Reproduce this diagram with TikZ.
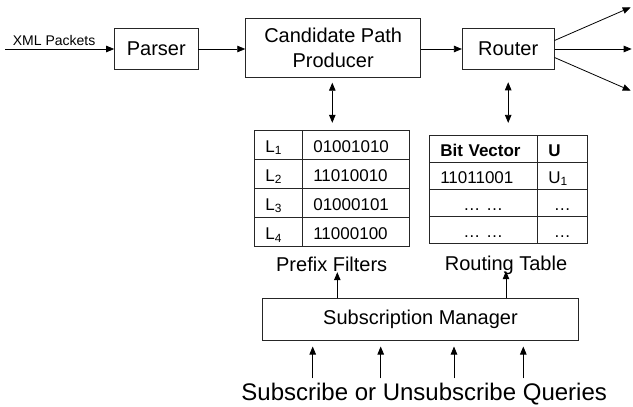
\documentclass[tikz,border=0pt]{standalone}
\usepackage{fontspec}
\setmainfont{Liberation Sans}
\usetikzlibrary{arrows.meta,calc}
\begin{document}
\begin{tikzpicture}[x=1pt,y=-1pt,
  box/.style={draw=black!85, line width=0.9pt, rectangle, inner sep=0pt, font=\fontsize{20}{25}\selectfont, align=center},
  arr/.style={-{Triangle[length=8pt,width=6.5pt]}, line width=0.8pt},
  darr/.style={{Triangle[length=8pt,width=6.5pt]}-{Triangle[length=8pt,width=6.5pt]}, line width=0.8pt},
  cell/.style={draw=black!85, line width=0.8pt, rectangle, inner xsep=11pt, inner ysep=0pt, text height=15pt, text depth=0pt, align=left, font=\fontsize{17}{20}\selectfont},
  lbl/.style={font=\fontsize{20}{24}\selectfont, inner sep=1pt, text depth=0pt},
]
\useasboundingbox (0,0) rectangle (633,407);

% main boxes
\node[box, minimum width=83.3pt, minimum height=41.6pt] (parser) at (156.3,49) {Parser};
\node[box, minimum width=175pt, minimum height=58.3pt] (cpp) at (333.2,47.8) {Candidate Path\\Producer};
\node[box, minimum width=91.7pt, minimum height=41.6pt] (router) at (508.2,49) {Router};
\node[box, minimum width=315.6pt, minimum height=41.7pt] (sm) at (420.5,319.2) {Subscription Manager};

% prefix filters table
\foreach \i/\b in {1/01001010,2/11010010,3/01000101,4/11000100} {
  \node[cell, text width=26pt, minimum height=29.2pt] (pa\i) at (278.3,{144.5+29.2*(\i-1)}) {L\textsubscript{\i}};
  \node[cell, text width=85pt, minimum height=29.2pt] (pb\i) at (355.8,{144.5+29.2*(\i-1)}) {\b};
}

% routing table
\node[cell, text width=86pt, minimum height=27.1pt] (ra1) at (483.3,148.55) {\textbf{Bit Vector}};
\node[cell, text width=28pt, minimum height=27.1pt] (ru1) at (562.3,148.55) {\textbf{U}};
\node[cell, text width=86pt, minimum height=27.1pt] (ra2) at (483.3,175.65) {11011001};
\node[cell, text width=28pt, minimum height=27.1pt] (ru2) at (562.3,175.65) {U\textsubscript{1}};
\node[cell, text width=86pt, minimum height=27.1pt, align=center] (ra3) at (483.3,202.75) {… …};
\node[cell, text width=28pt, minimum height=27.1pt, align=center] (ru3) at (562.3,202.75) {…};
\node[cell, text width=86pt, minimum height=27.1pt, align=center] (ra4) at (483.3,229.85) {… …};
\node[cell, text width=28pt, minimum height=27.1pt, align=center] (ru4) at (562.3,229.85) {…};

% labels
\node[lbl, anchor=base] (pflabel) at (331.7,271) {Prefix Filters};
\node[lbl, anchor=base] (rtlabel) at (506,270) {Routing Table};
\node[font=\fontsize{24}{28}\selectfont, anchor=base, inner sep=1pt] (q) at (424.2,400) {Subscribe or Unsubscribe Queries};

% free ends
\coordinate (xin) at (5,49);
\coordinate (o1) at (630.7,7.3);
\coordinate (o2) at (631.7,49);
\coordinate (o3) at (630.7,90.7);

% connectors
\draw[arr] (xin) -- node[pos=0.45, anchor=base, yshift=4pt, font=\fontsize{14}{16}\selectfont, inner sep=0pt] {XML Packets} (parser.west);
\draw[arr] (parser.east) -- (parser.east -| cpp.west);
\draw[arr] (cpp.east |- router.west) -- (router.west);
\draw[arr] ($(router.east)+(0,-8.5)$) -- (o1);
\draw[arr] (router.east) -- (o2);
\draw[arr] ($(router.east)+(0,8.5)$) -- (o3);

\draw[darr, shorten <=5.3pt, shorten >=6.7pt] ([xshift=-0.9pt]cpp.south) -- ([xshift=-0.9pt]cpp.south |- pa1.north);
\draw[darr, shorten <=12pt, shorten >=11.7pt] (router.south) -- (router.south |- ra1.north);

\draw[arr] ([xshift=5.6pt]pflabel.south |- sm.north) -- ([xshift=5.6pt]pflabel.south);
\draw[arr] (rtlabel.south |- sm.north) -- (rtlabel.south);

\foreach \x in {312.7,380.7,454,523.3}
  \draw[arr, shorten <=3pt, shorten >=6pt] (q.north -| \x,0) -- (sm.south -| \x,0);
\end{tikzpicture}
\end{document}
